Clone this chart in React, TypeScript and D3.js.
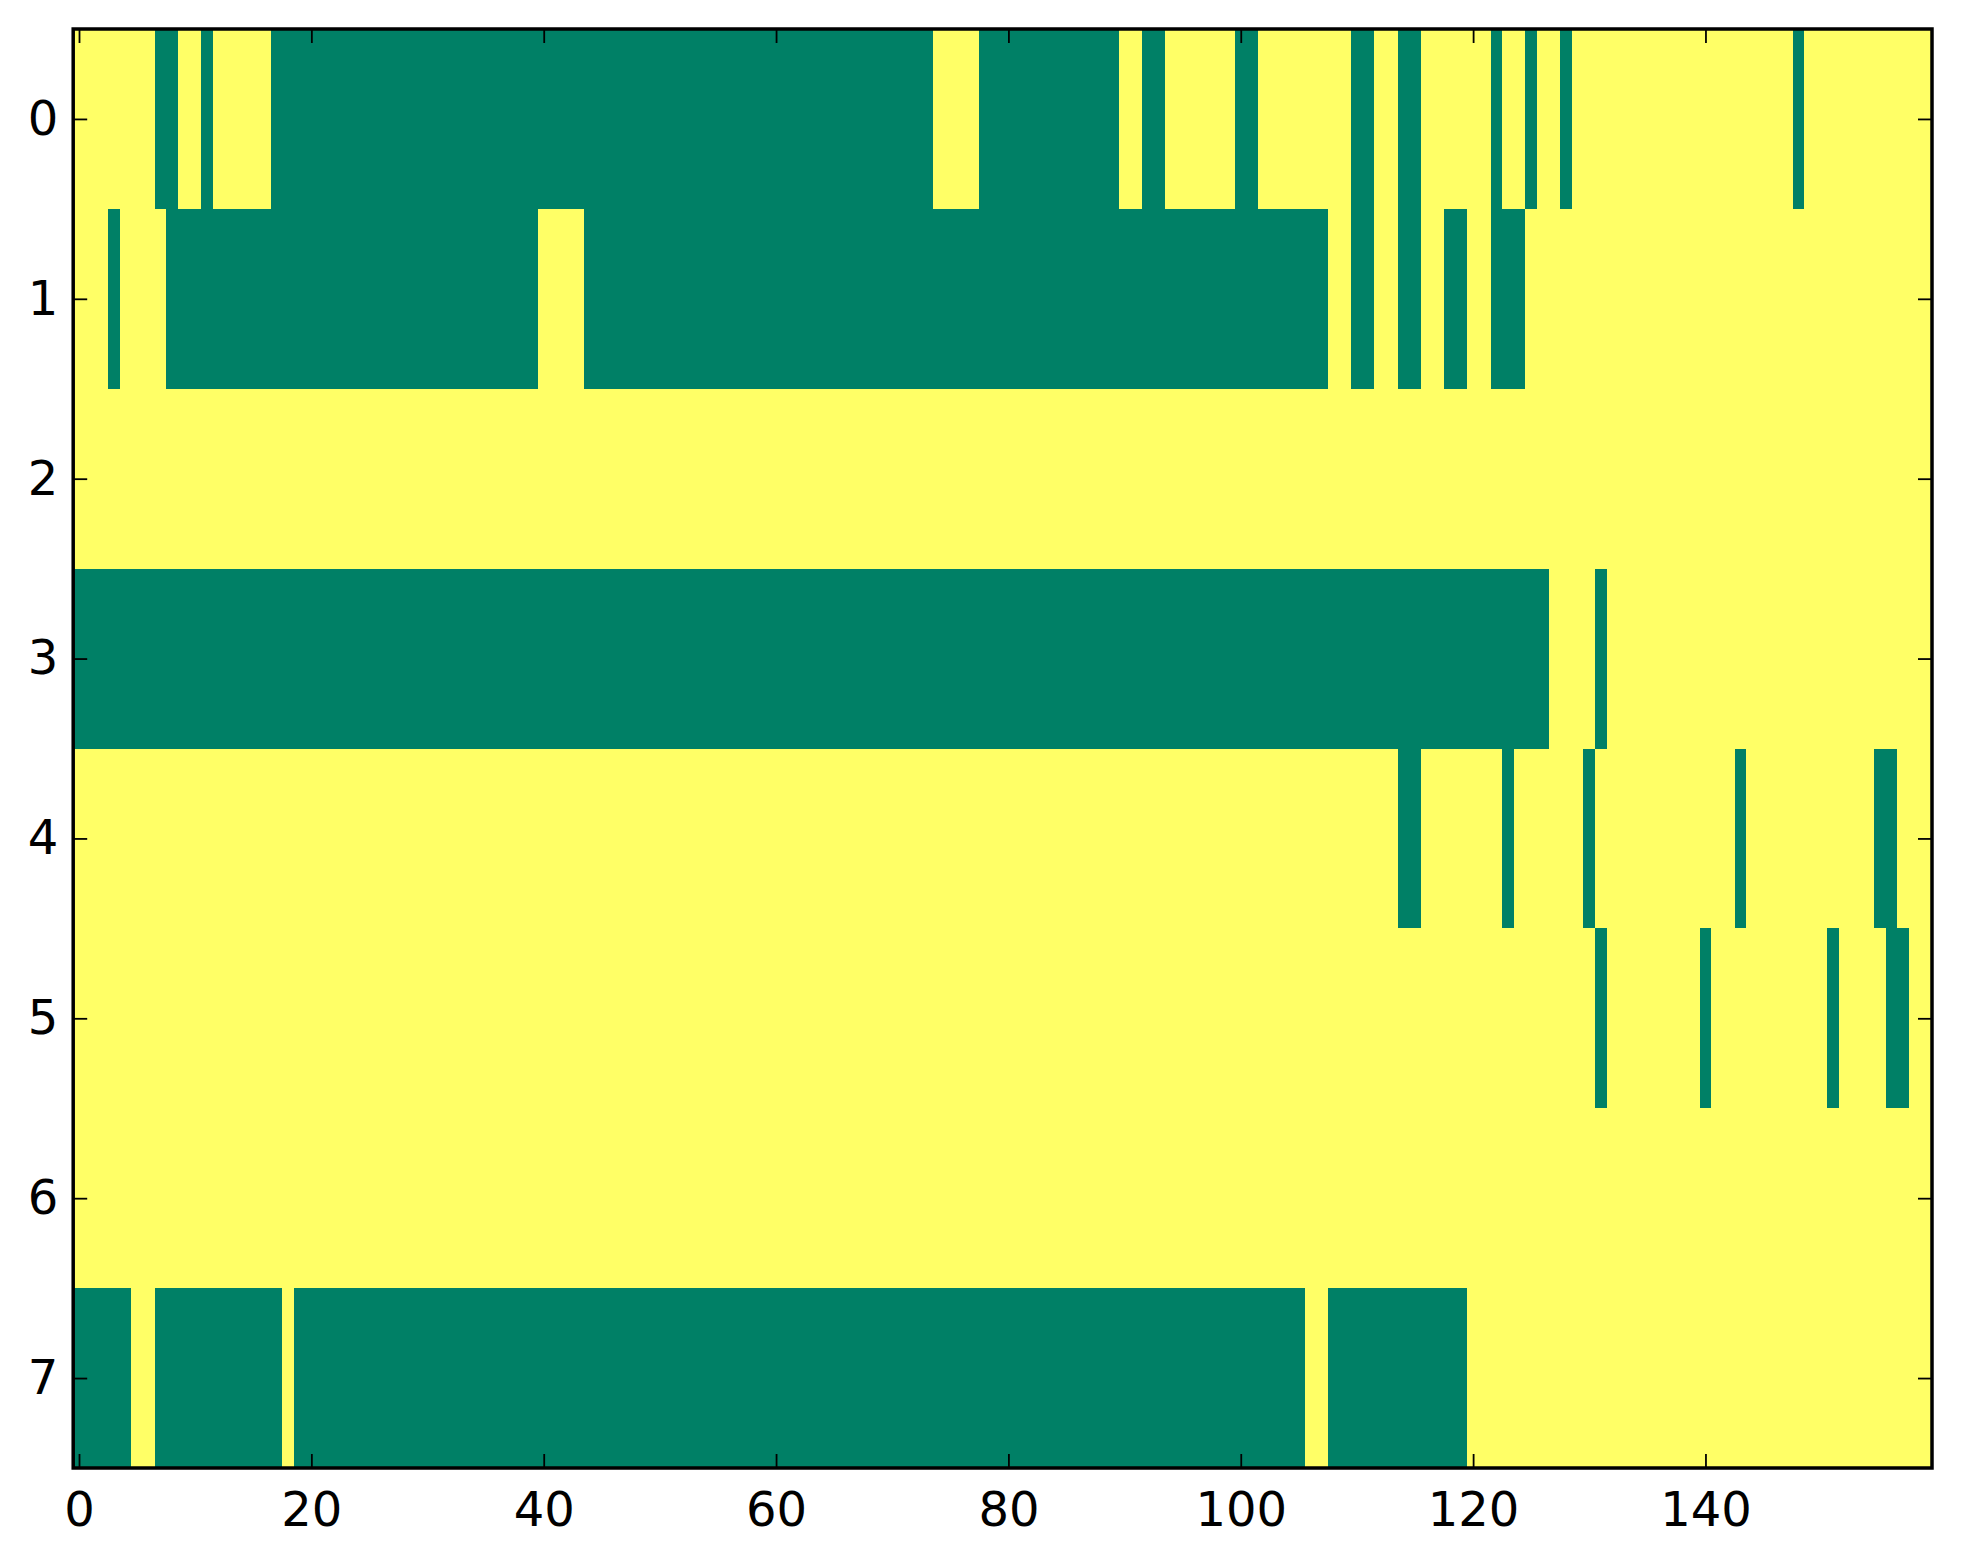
import React, { useRef, useEffect } from "react";
import { select, scaleLinear, axisBottom, axisLeft, axisTop, axisRight, range } from "d3";

// grid size
const nCols = 160;
const rowLabels = [0, 1, 2, 3, 4, 5, 6, 7];
const xTicks = [0, 20, 40, 60, 80, 100, 120, 140];

// runs of columns whose value is 0 (green); everything else is 1 (yellow)
const row0Low = [[7, 8], [11, 11], [17, 73], [78, 89], [92, 93], [100, 101], [110, 111], [114, 115], [122, 122], [125, 125], [128, 128], [148, 148]];
const row1Low = [[3, 3], [8, 39], [44, 107], [110, 111], [114, 115], [118, 119], [122, 124]];
const row2Low: number[][] = [];
const row3Low = [[0, 126], [131, 131]];
const row4Low = [[114, 115], [123, 123], [130, 130], [143, 143], [155, 156]];
const row5Low = [[131, 131], [140, 140], [151, 151], [156, 157]];
const row6Low: number[][] = [];
const row7Low = [[0, 4], [7, 17], [19, 105], [108, 119]];

const lowRuns = [row0Low, row1Low, row2Low, row3Low, row4Low, row5Low, row6Low, row7Low];

const W = 1963;
const H = 1564;
const left = 73.2;
const right = 1932;
const top = 29;
const bottom = 1468;

const App: React.FC = () => {
  const svgRef = useRef<SVGSVGElement>(null);

  useEffect(() => {
    const svg = select(svgRef.current).attr("width", W).attr("height", H);
    svg.selectAll("*").remove();

    // build the matrix
    const grid = lowRuns.map((runs) => {
      const row = range(nCols).map(() => 1);
      runs.forEach(([a, b]) => {
        for (let c = a; c <= b; c++) row[c] = 0;
      });
      return row;
    });

    const x = scaleLinear().domain([-0.5, nCols - 0.5]).range([left, right]);
    const y = scaleLinear().domain([-0.5, rowLabels.length - 0.5]).range([top, bottom]);
    const color = scaleLinear<string>().domain([0, 1]).range(["#008066", "#ffff66"]);

    // merge equal neighbours into runs so no seams show
    const segs: { r: number; s: number; e: number; v: number }[] = [];
    grid.forEach((row, r) => {
      let s = 0;
      for (let c = 1; c <= nCols; c++) {
        if (c === nCols || row[c] !== row[s]) {
          segs.push({ r, s, e: c - 1, v: row[s] });
          s = c;
        }
      }
    });

    svg
      .append("g")
      .selectAll("rect")
      .data(segs)
      .join("rect")
      .attr("x", (d) => x(d.s - 0.5))
      .attr("width", (d) => x(d.e + 0.5) - x(d.s - 0.5))
      .attr("y", (d) => y(d.r - 0.5))
      .attr("height", (d) => y(d.r + 0.5) - y(d.r - 0.5))
      .attr("fill", (d) => color(d.v))
      .attr("shape-rendering", "crispEdges");

    const styleAxis = (g: any) => {
      g.select(".domain").remove();
      g.selectAll(".tick line").attr("stroke", "#000").attr("stroke-width", 1.8);
      g.selectAll(".tick text")
        .attr("fill", "#000")
        .style("font-family", "'DejaVu Sans', sans-serif")
        .style("font-size", "48px");
    };

    //axes, ticks point inward
    svg
      .append("g")
      .attr("transform", `translate(0,${bottom})`)
      .call(axisBottom(x).tickValues(xTicks).tickSizeInner(-14).tickSizeOuter(0).tickPadding(24))
      .call(styleAxis);
    svg
      .append("g")
      .attr("transform", `translate(0,${top})`)
      .call(axisTop(x).tickValues(xTicks).tickSizeInner(-14).tickSizeOuter(0).tickFormat(() => ""))
      .call(styleAxis);
    svg
      .append("g")
      .attr("transform", `translate(${left},0)`)
      .call(axisLeft(y).tickValues(rowLabels).tickSizeInner(-14).tickSizeOuter(0).tickPadding(15))
      .call(styleAxis);
    svg
      .append("g")
      .attr("transform", `translate(${right},0)`)
      .call(axisRight(y).tickValues(rowLabels).tickSizeInner(-14).tickSizeOuter(0).tickFormat(() => ""))
      .call(styleAxis);

    // frame
    svg
      .append("rect")
      .attr("x", left)
      .attr("y", top)
      .attr("width", right - left)
      .attr("height", bottom - top)
      .attr("fill", "none")
      .attr("stroke", "#000")
      .attr("stroke-width", 3.5);
  }, []);

  return (
    <div style={{ position: "absolute", left: 0, top: 0, background: "#fff" }}>
      <svg ref={svgRef} style={{ display: "block" }}></svg>
    </div>
  );
};

export default App;
